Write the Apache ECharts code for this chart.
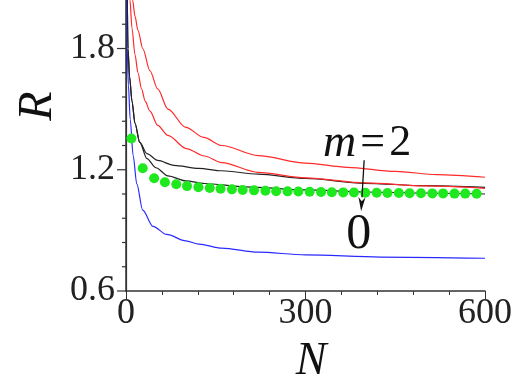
<!DOCTYPE html>
<html>
<head>
<meta charset="utf-8">
<title>R vs N</title>
<script src="https://cdn.jsdelivr.net/npm/echarts@6/dist/echarts.min.js"></script>
<style>
    html, body { margin: 0; padding: 0; background: #fff; }
    #chart1 { width: 515px; height: 389px; }
</style>
</head>
<body>
<div id="chart1"></div>
<script type="text/javascript">
    // 数据
    var outerRedN = [9, 11, 15, 20, 28, 40, 53, 70, 100, 130, 160, 221, 300, 370, 450, 520, 600];
    var outerRedR = [2.12, 2.04, 1.96, 1.89, 1.80, 1.69, 1.60, 1.50, 1.41, 1.36, 1.32, 1.27, 1.233, 1.212, 1.192, 1.176, 1.163];

    var innerRedN = [5, 6.6, 10, 15, 20, 26, 32, 40, 53, 70, 101, 131, 160, 221, 300, 400, 500, 600];
    var innerRedR = [2.16, 2.04, 1.90, 1.77, 1.68, 1.60, 1.54, 1.49, 1.42, 1.37, 1.305, 1.268, 1.235, 1.187, 1.16, 1.135, 1.12, 1.108];

    var blackAN = [2, 3.3, 6, 10, 15, 23, 35, 53, 80, 122, 160, 221, 300, 398, 500, 600];
    var blackAR = [2.1, 1.80, 1.66, 1.54, 1.43, 1.335, 1.28, 1.246, 1.222, 1.207, 1.195, 1.178, 1.157, 1.133, 1.121, 1.113];

    var blackBN = [2, 3.3, 6, 10, 15, 23, 35, 50, 70, 100, 131, 200, 300, 400, 500, 600];
    var blackBR = [2.1, 1.80, 1.66, 1.54, 1.43, 1.335, 1.255, 1.21, 1.17, 1.145, 1.132, 1.115, 1.10, 1.09, 1.085, 1.08];

    var blueN = [1, 2, 4, 7, 12, 18, 28, 45, 68, 100, 122, 160, 221, 300, 425, 600];
    var blueR = [2.1, 1.80, 1.62, 1.45, 1.27, 1.13, 1.00, 0.92, 0.88, 0.848, 0.832, 0.812, 0.792, 0.779, 0.768, 0.762];

    var dotN = [9, 28, 47, 65, 84, 102, 121, 140, 158, 177, 195, 214, 233, 251, 270, 288,
                307, 326, 344, 363, 381, 400, 419, 437, 456, 474, 493, 512, 530, 549, 567, 586];
    var dotR = [1.355, 1.207, 1.158, 1.138, 1.128, 1.119, 1.114, 1.110, 1.106, 1.103, 1.100, 1.098, 1.096, 1.094, 1.093, 1.092,
                1.091, 1.090, 1.089, 1.088, 1.087, 1.086, 1.086, 1.085, 1.085, 1.084, 1.084, 1.083, 1.083, 1.082, 1.082, 1.081];

    var xTicks = [0, 300, 600];
    var yTicks = [0.6, 1.2, 1.8];
    var yMinorTicks = [0.72, 0.84, 0.96, 1.08, 1.32, 1.44, 1.56, 1.68, 1.92];

    function pairs(xs, ys) {
        var out = [];
        for (var i = 0; i < xs.length; i++) out.push([xs[i], ys[i]]);
        return out;
    }

    var serif = "'Liberation Serif', 'DejaVu Serif', serif";
    var axisColor = '#333';
    var box = { left: 126, right: 26, top: 0, bottom: 98 };

    function lineSeries(xs, ys, color, z) {
        return {
            type: 'line',
            data: pairs(xs, ys),
            showSymbol: false,
            smooth: 0.3,
            smoothMonotone: 'x',
            lineStyle: { color: color, width: 1.2 },
            z: z
        };
    }

    var myChart1 = echarts.init(document.getElementById('chart1'));

    myChart1.setOption({
        animation: false,
        // grid 1 has the same box, it only draws the right frame line
        grid: [
            { left: box.left, right: box.right, top: box.top, bottom: box.bottom },
            { left: box.left, right: box.right, top: box.top, bottom: box.bottom }
        ],
        xAxis: [
            {
                type: 'value', min: 0, max: 600, interval: 300,
                axisLine: { lineStyle: { color: axisColor, width: 1.5 } },
                axisTick: { length: 8, lineStyle: { color: axisColor } },
                minorTick: { show: true, splitNumber: 5, length: 4, lineStyle: { color: axisColor } },
                axisLabel: {
                    fontFamily: serif, fontSize: 36, color: '#222', margin: 5,
                    formatter: function (v) { return xTicks.indexOf(v) >= 0 ? String(v) : ''; }
                },
                splitLine: { show: false }
            },
            { gridIndex: 1, type: 'value', min: 0, max: 600, show: false }
        ],
        yAxis: [
            {
                type: 'value', min: 0.6, max: 2.04, interval: 0.6,
                axisLine: { show: true, lineStyle: { color: axisColor, width: 1.5 } },
                axisTick: { show: false },
                axisLabel: {
                    fontFamily: serif, fontSize: 36, color: '#222', margin: 11,
                    formatter: function (v) {
                        for (var i = 0; i < yTicks.length; i++) if (Math.abs(v - yTicks[i]) < 1e-6) return yTicks[i].toFixed(1);
                        return '';
                    }
                },
                splitLine: { show: false }
            },
            {
                gridIndex: 1, type: 'value', position: 'right', min: 0.6, max: 2.04,
                axisLine: { show: true, lineStyle: { color: axisColor, width: 1.2 } },
                axisTick: { show: false },
                axisLabel: { show: false },
                splitLine: { show: false }
            }
        ],
        series: [
            lineSeries(blueN, blueR, '#2a2aff', 3),
            lineSeries(blackBN, blackBR, '#222', 2),
            {
                type: 'scatter',
                data: pairs(dotN, dotR),
                symbolSize: 10,
                itemStyle: { color: '#1ee81e', opacity: 1 },
                z: 4
            },
            lineSeries(blackAN, blackAR, '#222', 3),
            lineSeries(innerRedN, innerRedR, '#ff2a2a', 3),
            lineSeries(outerRedN, outerRedR, '#ff2a2a', 3)
        ]
    });

    // y 轴刻度 (tick marks placed through the axis scale)
    var graphics = [];
    function addTicks(values, len) {
        for (var i = 0; i < values.length; i++) {
            var p = myChart1.convertToPixel({ xAxisIndex: 0, yAxisIndex: 0 }, [0, values[i]]);
            graphics.push({
                type: 'line', z: 5,
                shape: { x1: p[0] - len, y1: p[1], x2: p[0], y2: p[1] },
                style: { stroke: axisColor, lineWidth: 1.2 }
            });
        }
    }
    addTicks(yTicks, 9);
    addTicks(yMinorTicks, 4);

    // 注释: m=2 label, arrow, 0 and axis titles
    var arrowFrom = myChart1.convertToPixel({ gridIndex: 0 }, [398, 1.247]);
    var arrowTo = myChart1.convertToPixel({ gridIndex: 0 }, [393, 0.995]);
    var mPos = myChart1.convertToPixel({ gridIndex: 0 }, [403, 1.33]);
    var zeroPos = myChart1.convertToPixel({ gridIndex: 0 }, [389, 0.88]);

    var dx = arrowTo[0] - arrowFrom[0], dy = arrowTo[1] - arrowFrom[1];
    var len = Math.sqrt(dx * dx + dy * dy);
    var ux = dx / len, uy = dy / len;
    var headLen = 14, headW = 3.5;
    var bx = arrowTo[0] - ux * headLen, by = arrowTo[1] - uy * headLen;

    graphics.push(
        {
            type: 'line', z: 10,
            shape: { x1: arrowFrom[0], y1: arrowFrom[1], x2: bx, y2: by },
            style: { stroke: '#111', lineWidth: 1.3 }
        },
        {
            type: 'polygon', z: 10,
            shape: { points: [arrowTo, [bx - uy * headW, by + ux * headW], [bx + ux * 4, by + uy * 4], [bx + uy * headW, by - ux * headW]] },
            style: { fill: '#111' }
        },
        {
            type: 'text', z: 10, x: mPos[0], y: mPos[1],
            style: {
                text: '{i|m}{e|=}2', align: 'center', verticalAlign: 'middle',
                fontFamily: serif, fontSize: 44, fill: '#111',
                rich: {
                    i: { fontFamily: serif, fontStyle: 'italic', fontSize: 46 },
                    e: { fontFamily: serif, fontSize: 44, padding: [0, 4] }
                }
            }
        },
        {
            type: 'text', z: 10, x: zeroPos[0], y: zeroPos[1],
            style: { text: '0', align: 'center', verticalAlign: 'middle', fontFamily: serif, fontSize: 50, fill: '#111' }
        },
        {
            type: 'text', x: 38, y: 106, rotation: Math.PI / 2,
            style: { text: 'R', align: 'center', verticalAlign: 'middle', fontFamily: serif, fontStyle: 'italic', fontSize: 48, fill: '#111' }
        },
        {
            type: 'text', x: 311, y: 362,
            style: { text: 'N', align: 'center', verticalAlign: 'middle', fontFamily: serif, fontStyle: 'italic', fontSize: 46, fill: '#111' }
        }
    );

    myChart1.setOption({ graphic: graphics });
</script>
</body>
</html>
